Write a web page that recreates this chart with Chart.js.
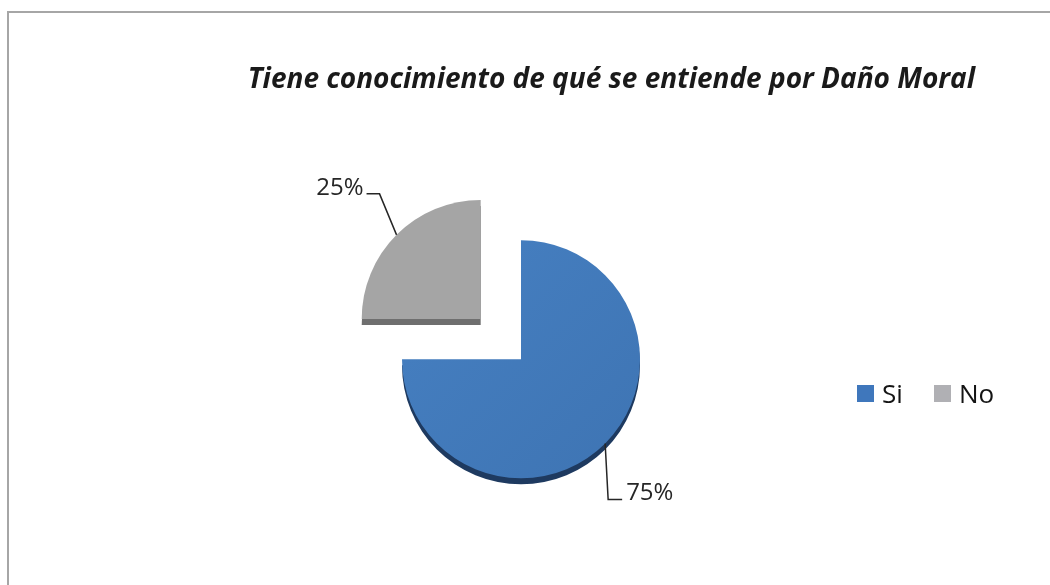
<!DOCTYPE html>
<html lang="es">
<head>
<meta charset="UTF-8">
<title>Daño Moral</title>
<script src="https://cdn.jsdelivr.net/npm/chart.js"></script>
<style>
  body { margin: 0; width: 1050px; height: 585px; overflow: hidden; background: #fff; position: relative; }
  .marco { position: absolute; left: 7px; top: 11px; width: 1100px; height: 700px; border: 2px solid #a6a6a6; }
  #grafico { position: absolute; left: 0; top: 0; }
</style>
</head>
<body>
<div class="marco"></div>
<canvas id="grafico" width="1050" height="585"></canvas>

<script>
    // datos del grafico
    const titulo = 'Tiene conocimiento de qué se entiende por Daño Moral';
    const respuestas = ['Si', 'No'];
    const porcentajes = [75, 25];

    const colores = ['#4279b9', '#a5a5a5'];
    const coloresLado = ['#1e3a60', '#6f6f6f'];
    const coloresLeyenda = ['#3f77bc', '#b0b0b4'];

    const separacion = 57;   // cuanto se aleja la porcion "No"
    const grosor = 6;        // efecto 3D

    // misma cuenta que hace Chart.js al dibujar un arco con offset
    function desplazamiento(arc) {
        const off = (arc.options.offset || 0) / 4;
        const fix = 1 - Math.sin(Math.min(Math.PI, arc.circumference || 0));
        return off * (1 + fix);
    }

    // lado oscuro debajo de cada porcion
    const lado3d = {
        id: 'lado3d',
        beforeDatasetsDraw(chart) {
            const ctx = chart.ctx;
            chart.getDatasetMeta(0).data.forEach((arc, i) => {
                const mid = (arc.startAngle + arc.endAngle) / 2;
                const s = desplazamiento(arc);
                const cx = arc.x + Math.cos(mid) * s;
                const cy = arc.y + Math.sin(mid) * s + grosor;
                ctx.save();
                ctx.fillStyle = coloresLado[i];
                ctx.beginPath();
                ctx.moveTo(cx, cy);
                ctx.arc(cx, cy, arc.outerRadius, arc.startAngle, arc.endAngle);
                ctx.closePath();
                ctx.fill();
                ctx.restore();
            });
        }
    };

    // porcentajes con linea guia
    const guias = [
        { dx: 3, dy: 56, tramo: 14 },
        { dx: -17, dy: -41, tramo: -13 }
    ];
    const etiquetas = {
        id: 'etiquetas',
        afterDatasetsDraw(chart) {
            const ctx = chart.ctx;
            chart.getDatasetMeta(0).data.forEach((arc, i) => {
                const mid = (arc.startAngle + arc.endAngle) / 2;
                const d = desplazamiento(arc) + arc.outerRadius;
                const ax = arc.x + Math.cos(mid) * d;
                const ay = arc.y + Math.sin(mid) * d;
                const g = guias[i];
                const ex = ax + g.dx, ey = ay + g.dy;
                const fx = ex + g.tramo;
                ctx.save();
                ctx.strokeStyle = '#262626';
                ctx.lineWidth = 1.5;
                ctx.beginPath();
                ctx.moveTo(ax, ay);
                ctx.lineTo(ex, ey);
                ctx.lineTo(fx, ey);
                ctx.stroke();
                ctx.fillStyle = '#262626';
                ctx.font = '24px "Open Sans"';
                ctx.textBaseline = 'alphabetic';
                ctx.textAlign = g.tramo > 0 ? 'left' : 'right';
                ctx.fillText(porcentajes[i] + '%', fx + (g.tramo > 0 ? 4 : -3), ey + 1);
                ctx.restore();
            });
        }
    };

    // leyenda en una sola fila a la derecha
    const leyenda = {
        id: 'leyenda',
        afterDraw(chart) {
            const ctx = chart.ctx;
            let x = 857;
            const y = 385;
            ctx.save();
            ctx.font = '26px "Open Sans"';
            ctx.textBaseline = 'alphabetic';
            chart.data.labels.forEach((lbl, i) => {
                ctx.fillStyle = coloresLeyenda[i];
                ctx.fillRect(x, y, 17, 17);
                ctx.fillStyle = '#141414';
                ctx.fillText(lbl, x + 25, y + 18);
                x += 77;
            });
            ctx.restore();
        }
    };

    const ctxG = document.getElementById('grafico').getContext('2d');
    const degradado = ctxG.createLinearGradient(400, 240, 640, 480);
    degradado.addColorStop(0, '#4680c2');
    degradado.addColorStop(1, '#3e74b3');

    new Chart(ctxG, {
        type: 'pie',
        data: {
            labels: respuestas,
            datasets: [{
                data: porcentajes,
                backgroundColor: [degradado, colores[1]],
                borderWidth: 0,
                offset: [0, separacion * 4],
                clip: false
            }]
        },
        options: {
            responsive: false,
            animation: false,
            events: [],
            radius: 119,
            layout: { padding: { left: 67, right: 75, top: 63, bottom: 45 } },
            plugins: {
                legend: { display: false },
                tooltip: { enabled: false },
                title: {
                    display: true,
                    text: titulo,
                    align: 'end',
                    color: '#1a1a1a',
                    font: { family: 'Open Sans', size: 28, weight: 'bold', style: 'italic' },
                    padding: { top: 0, bottom: 82 }
                }
            }
        },
        plugins: [lado3d, etiquetas, leyenda]
    });
</script>
</body>
</html>
